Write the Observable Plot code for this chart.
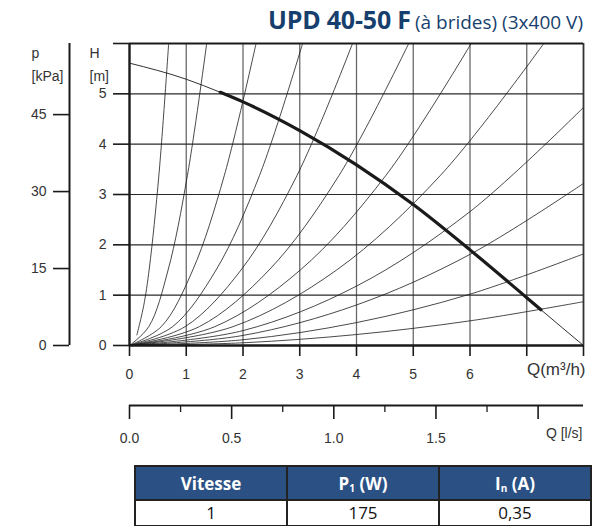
<!DOCTYPE html>
<html><head><meta charset="utf-8">
<script src="https://cdn.jsdelivr.net/npm/d3@7"></script>
<script src="https://cdn.jsdelivr.net/npm/@observablehq/plot@0.6"></script>
<style>
html,body{margin:0;padding:0;background:#fff;}
#wrap{position:relative;width:600px;height:526px;overflow:hidden;}
#chart{position:absolute;left:0;top:0;}
#title{position:absolute;right:17px;top:2px;color:#173f6d;font-family:"Open Sans",sans-serif;white-space:nowrap;line-height:34px;}
#title b{font-size:25px;font-weight:700;letter-spacing:-0.2px;}
#title span{font-size:19px;}
#tbl{position:absolute;left:134px;top:465px;width:450px;border-collapse:collapse;table-layout:fixed;font-family:"Open Sans",sans-serif;}
#tbl td,#tbl th{border:2px solid #222;text-align:center;padding:0;width:150px;}
#tbl th{background:#2b5184;color:#fff;font-size:17px;font-weight:700;height:32px;}
#tbl td{font-size:17px;color:#111;height:24px;line-height:22px;}
#tbl sub{font-size:10px;vertical-align:-2px;}
</style>
</head><body>
<div id="wrap">
  <div id="chart"></div>
  <div id="title"></div>
  <table id="tbl"></table>
</div>
<script>
// ---- data ----
const titleMain = "UPD 40-50 F";
const titleSub = "(à brides) (3x400 V)";
const qTicks = [0, 1, 2, 3, 4, 5, 6, 7, 8];
const qTickLabels = ["0", "1", "2", "3", "4", "5", "6", "", ""];
const hTicks = [0, 1, 2, 3, 4, 5, 6];
const hTickLabels = ["0", "1", "2", "3", "4", "5", ""];
const pTicks = [0, 15, 30, 45];          // kPa
const kPaPerMeter = 9.81;
const lsMajor = [0, 0.5, 1, 1.5, 2];      // l/s
const lsLabels = ["0.0", "0.5", "1.0", "1.5", ""];
const lsMinor = [0.25, 0.75, 1.25, 1.75];
const m3hPerLs = 3.6;

// pump curve (Q in m3/h, H in m)
const pumpQ = [0, 1, 1.6, 2, 3, 4, 5, 6, 7, 7.25, 8];
const pumpH = [5.61, 5.29, 5.03, 4.84, 4.27, 3.59, 2.80, 1.90, 0.95, 0.71, 0.0];
const thickFrom = 1.6, thickTo = 7.25;

// system curves (Q, H pairs)
const systemQ = [
  [0.13, 0.25, 0.35, 0.52, 0.69],
  [0, 0.34, 0.68, 1.02, 1.36],
  [0, 0.56, 1.115, 1.67, 2.23],
  [0, 0.76, 1.525, 2.29, 3.05],
  [0, 0.98, 1.965, 2.95, 3.93],
  [0, 1.23, 2.46, 3.69, 4.92],
  [0, 1.505, 3.01, 4.515, 6.02],
  [0, 1.825, 3.65, 5.475, 7.3],
  [0, 2, 4, 6, 8],
  [0, 2, 4, 6, 8],
  [0, 2, 4, 6, 8],
  [0, 2, 4, 6, 8]
];
const systemH = [
  [0.21, 0.79, 1.54, 3.41, 6.0],
  [0, 0.375, 1.5, 3.375, 6.0],
  [0, 0.375, 1.5, 3.375, 6.0],
  [0, 0.375, 1.5, 3.375, 6.0],
  [0, 0.375, 1.5, 3.375, 6.0],
  [0, 0.375, 1.5, 3.375, 6.0],
  [0, 0.375, 1.5, 3.375, 6.0],
  [0, 0.375, 1.5, 3.375, 6.0],
  [0, 0.296, 1.18, 2.66, 4.73],
  [0, 0.20, 0.805, 1.81, 3.22],
  [0, 0.114, 0.455, 1.02, 1.82],
  [0, 0.054, 0.218, 0.49, 0.87]
];

// table
const tableHead = ["Vitesse", "P<sub>1</sub> (W)", "I<sub>n</sub> (A)"];
const tableRow = ["1", "175", "0,35"];

// ---- build ----
const sys = systemQ.flatMap((qs, i) => qs.map((q, j) => ({id: i, q, h: systemH[i][j]})));
const pump = pumpQ.map((q, i) => ({q, h: pumpH[i]}));
const pumpThick = pump.filter(d => d.q >= thickFrom && d.q <= thickTo);
const qLabel = new Map(qTicks.map((t, i) => [t, qTickLabels[i]]));
const hLabel = new Map(hTicks.map((t, i) => [t, hTickLabels[i]]));
const lsPos = lsMajor.map(v => v * m3hPerLs);
const lsLabel = new Map(lsPos.map((t, i) => [t, lsLabels[i]]));
const pPos = pTicks.map(p => p / kPaPerMeter);
const pLabel = new Map(pPos.map((t, i) => [t, String(pTicks[i])]));

const ink = "#1a1a1a";
const txt = "#333";
const font = "'Liberation Sans', Arial, sans-serif";

const chart = Plot.plot({
  width: 600, height: 450,
  marginLeft: 129, marginRight: 17, marginTop: 43, marginBottom: 105,
  style: {fontFamily: font, fontSize: "14px", color: txt, background: "transparent", overflow: "visible"},
  x: {domain: [0, 8]},
  y: {domain: [0, 6]},
  marks: [
    Plot.ruleX(qTicks.filter(t => t > 0 && t < 8), {stroke: "#6a6a6a", strokeWidth: 1.3}),
    Plot.ruleY(hTicks.filter(t => t > 0 && t < 6), {stroke: "#2a2a2a", strokeWidth: 1.1}),
    Plot.line(sys, {x: "q", y: "h", z: "id", curve: "catmull-rom", stroke: ink, strokeWidth: 0.8, clip: true}),
    Plot.line(pump, {x: "q", y: "h", curve: "monotone-x", stroke: ink, strokeWidth: 0.9, clip: true}),
    Plot.line(pumpThick, {x: "q", y: "h", curve: "monotone-x", stroke: ink, strokeWidth: 3.2}),
    Plot.ruleX([8], {stroke: "#333", strokeWidth: 1.8}),
    Plot.ruleY([6], {stroke: ink, strokeWidth: 1.8}),
    Plot.ruleX([0], {stroke: ink, strokeWidth: 2.4}),
    Plot.ruleY([0], {stroke: ink, strokeWidth: 2.6}),
    // H axis
    Plot.axisY({ticks: hTicks, tickFormat: d => hLabel.get(d), tickSize: 16, tickPadding: 7, stroke: ink, strokeWidth: 1.6, fill: txt, label: null}),
    // p axis
    Plot.axisY({ticks: pPos, tickFormat: d => pLabel.get(d), tickSize: 16, tickPadding: 7, dx: -60, stroke: ink, strokeWidth: 1.6, fill: txt, label: null}),
    Plot.ruleX([0], {dx: -60, stroke: ink, strokeWidth: 2}),
    // Q m3/h axis
    Plot.axisX({ticks: qTicks, tickFormat: d => qLabel.get(d), tickSize: 11, tickPadding: 13, stroke: ink, strokeWidth: 1.6, fill: txt, label: null}),
    // Q l/s axis
    Plot.ruleY([0], {dy: 60, stroke: ink, strokeWidth: 1.8}),
    Plot.axisX({ticks: lsPos, tickFormat: d => lsLabel.get(d), tickSize: 14, tickPadding: 14, dy: 60, stroke: ink, strokeWidth: 1.6, fill: txt, label: null}),
    Plot.axisX({ticks: lsMinor.map(v => v * m3hPerLs), tickFormat: () => "", tickSize: 7, dy: 60, stroke: ink, strokeWidth: 1.3, label: null}),
    // axis labels
    Plot.text(["H\n[m]"], {frameAnchor: "top-left", dx: -40, dy: -2, lineAnchor: "top", lineHeight: 1.65, fill: txt, fontSize: 14}),
    Plot.text(["p\n[kPa]"], {frameAnchor: "top-left", dx: -98, dy: -2, lineAnchor: "top", lineHeight: 1.65, fill: txt, fontSize: 14}),
    Plot.text(["Q(m³/h)"], {frameAnchor: "bottom-right", dx: 2, dy: 29, textAnchor: "end", fill: txt, fontSize: 17}),
    Plot.text(["Q [l/s]"], {frameAnchor: "bottom-right", dx: -1, dy: 92, textAnchor: "end", fill: txt, fontSize: 14})
  ]
});
document.getElementById("chart").appendChild(chart);

document.getElementById("title").innerHTML = `<b>${titleMain}</b> <span>${titleSub}</span>`;
const tbl = document.getElementById("tbl");
tbl.innerHTML = `<tr>${tableHead.map(h => `<th>${h}</th>`).join("")}</tr><tr>${tableRow.map(v => `<td>${v}</td>`).join("")}</tr>`;
</script>
</body></html>
